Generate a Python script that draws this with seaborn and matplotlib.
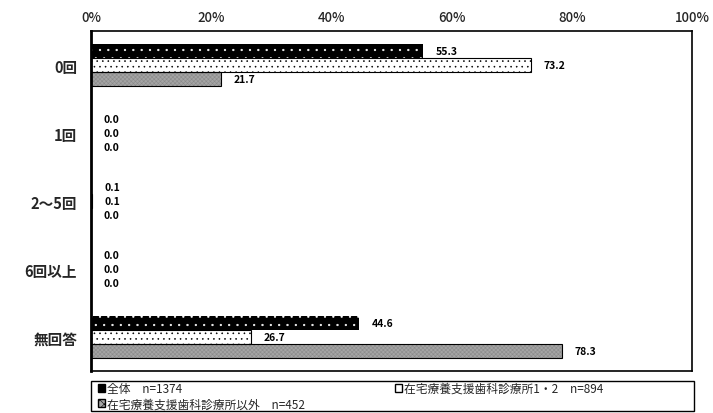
import numpy as np
import pandas as pd
import seaborn as sns
import matplotlib
matplotlib.use("Agg")
import matplotlib.pyplot as plt
from matplotlib.patches import Patch, Rectangle

# Data
categories = ['0回', '1回', '2～5回', '6回以上', '無回答']
groups = ['全体　n=1374', '在宅療養支援歯科診療所1・2　n=894', '在宅療養支援歯科診療所以外　n=452']
zentai = [55.3, 0.0, 0.1, 0.0, 44.6]
shien12 = [73.2, 0.0, 0.1, 0.0, 26.7]
igai = [21.7, 0.0, 0.0, 0.0, 78.3]
xticks = [0, 20, 40, 60, 80, 100]
xticklabels = ['0%', '20%', '40%', '60%', '80%', '100%']

df = pd.DataFrame({
    'cat': categories * 3,
    'val': zentai + shien12 + igai,
    'group': [groups[0]] * 5 + [groups[1]] * 5 + [groups[2]] * 5,
})

sns.set_theme(style='white')
plt.rcParams['font.family'] = ['Noto Sans CJK JP', 'DejaVu Sans']
plt.rcParams['hatch.linewidth'] = 0.4

fig = plt.figure(figsize=(7.13, 4.14), dpi=100)
ax = fig.add_axes([0.1276, 0.1014, 0.8429, 0.8213])

sns.barplot(data=df, y='cat', x='val', hue='group', orient='h', width=0.62,
            palette=['black', 'white', '#a0a0a0'], saturation=1, legend=False, ax=ax)

# bar styles: face, hatch colour, hatch, outline width
styles = [('black', 'white', '..', 0.0),
          ('white', 'black', '...', 0.8),
          ('#a4a4a4', '#8a8a8a', 'xxxxxxxx', 0.8)]
for cont, (fc, ec, h, lw) in zip(ax.containers, styles):
    for bar in cont:
        bar.set_facecolor(fc)
        bar.set_edgecolor(ec)
        bar.set_hatch(h)
        bar.set_linewidth(0)
        if lw > 0:
            ax.add_patch(Rectangle((bar.get_x(), bar.get_y()), bar.get_width(), bar.get_height(),
                                   fill=False, edgecolor='black', linewidth=lw, zorder=bar.get_zorder() + 0.1))
    for bar, v in zip(cont, cont.datavalues):
        ax.annotate(f'{v:.1f}', xy=(bar.get_width(), bar.get_y() + bar.get_height() / 2),
                    xytext=(9, 0), textcoords='offset points', ha='left', va='center',
                    fontsize=7.5, fontweight='bold', color='black')

ax.set_xlim(0, 100)
ax.set_ylim(4.5, -0.5)
ax.xaxis.tick_top()
ax.set_xticks(xticks)
ax.set_xticklabels(xticklabels, fontsize=9.5, fontweight='medium')
ax.tick_params(axis='x', length=0, pad=5)
ax.tick_params(axis='y', length=0, pad=10)
for lab in ax.get_yticklabels():
    lab.set_fontweight('bold')
    lab.set_fontsize(10.5)
ax.set_xlabel('')
ax.set_ylabel('')
for s in ax.spines.values():
    s.set_color('black')
    s.set_linewidth(1.2)
ax.spines['left'].set_linewidth(2)

# legend frame and two legend columns
fig.add_artist(Rectangle((91 / 713, 2 / 414), 603 / 713, 30 / 414, transform=fig.transFigure,
                         fill=False, edgecolor='black', linewidth=1))
leg_kw = dict(fontsize=8.5, frameon=False, handlelength=0.6, handleheight=0.6,
              handletextpad=0.2, borderpad=0, labelspacing=0.2, borderaxespad=0)
h1 = [Patch(facecolor='black', edgecolor='black', label=groups[0]),
      Patch(facecolor='#a4a4a4', edgecolor='black', hatch='xxxx', label=groups[2])]
h2 = [Patch(facecolor='white', edgecolor='black', label=groups[1])]
fig.legend(handles=h1, loc='upper left', bbox_to_anchor=(98 / 713, 1 - 383 / 414), **leg_kw)
fig.legend(handles=h2, loc='upper left', bbox_to_anchor=(395 / 713, 1 - 383 / 414), **leg_kw)

fig.savefig('out.png', dpi=100)
